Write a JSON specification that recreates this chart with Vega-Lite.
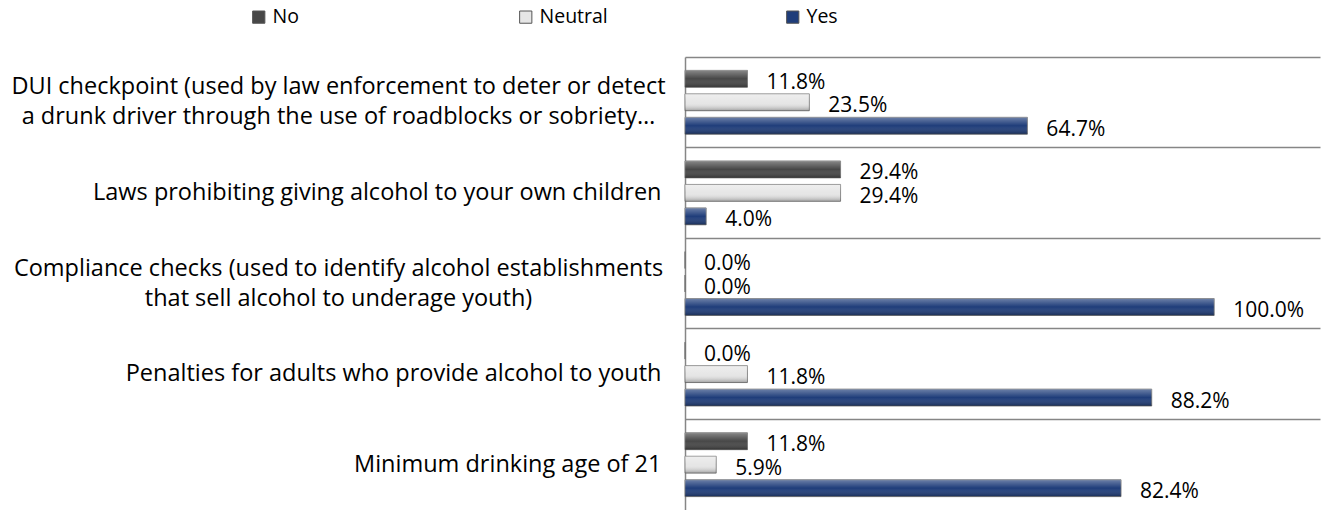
{
  "$schema": "https://vega.github.io/schema/vega-lite/v6.json",
  "autosize": {"type": "none"},
  "padding": {"left": 685, "top": 57, "right": 4, "bottom": 0},
  "width": 635,
  "height": 453,
  "background": "white",
  "config": {
    "font": "Open Sans",
    "view": {"stroke": null}
  },
  "data": {
    "values": [
      {"category": "DUI checkpoint (used by law enforcement to deter or detect|a drunk driver through the use of roadblocks or sobriety…", "series": "No", "value": 0.118},
      {"category": "DUI checkpoint (used by law enforcement to deter or detect|a drunk driver through the use of roadblocks or sobriety…", "series": "Neutral", "value": 0.235},
      {"category": "DUI checkpoint (used by law enforcement to deter or detect|a drunk driver through the use of roadblocks or sobriety…", "series": "Yes", "value": 0.647},
      {"category": "Laws prohibiting giving alcohol to your own children", "series": "No", "value": 0.294},
      {"category": "Laws prohibiting giving alcohol to your own children", "series": "Neutral", "value": 0.294},
      {"category": "Laws prohibiting giving alcohol to your own children", "series": "Yes", "value": 0.04},
      {"category": "Compliance checks (used to identify alcohol establishments|that sell alcohol to underage youth)", "series": "No", "value": 0.0},
      {"category": "Compliance checks (used to identify alcohol establishments|that sell alcohol to underage youth)", "series": "Neutral", "value": 0.0},
      {"category": "Compliance checks (used to identify alcohol establishments|that sell alcohol to underage youth)", "series": "Yes", "value": 1.0},
      {"category": "Penalties for adults who provide alcohol to youth", "series": "No", "value": 0.0},
      {"category": "Penalties for adults who provide alcohol to youth", "series": "Neutral", "value": 0.118},
      {"category": "Penalties for adults who provide alcohol to youth", "series": "Yes", "value": 0.882},
      {"category": "Minimum drinking age of 21", "series": "No", "value": 0.118},
      {"category": "Minimum drinking age of 21", "series": "Neutral", "value": 0.059},
      {"category": "Minimum drinking age of 21", "series": "Yes", "value": 0.824}
    ]
  },
  "encoding": {
    "y": {
      "field": "category",
      "type": "nominal",
      "sort": null,
      "scale": {"paddingInner": 0, "paddingOuter": 0},
      "axis": {
        "title": null,
        "labelExpr": "split(datum.label, '|')",
        "labelFont": "Open Sans",
        "labelFontSize": 23.5,
        "labelColor": "#000000",
        "labelLineHeight": 30,
        "labelLimit": 0,
        "labelAlign": {"condition": {"test": "indexof(datum.value, '|') >= 0", "value": "center"}, "value": "right"},
        "labelPadding": {"condition": {"test": "indexof(datum.value, '|') >= 0", "value": 347}, "value": 24},
        "labelOffset": {"condition": {"test": "indexof(datum.value, '|') >= 0", "value": -15}, "value": 0},
        "ticks": false,
        "domainColor": "#868686",
        "domainWidth": 1.5,
        "grid": true,
        "bandPosition": 0,
        "gridColor": "#868686",
        "gridWidth": 1.5
      }
    },
    "yOffset": {
      "field": "series",
      "type": "nominal",
      "sort": ["No", "Neutral", "Yes"],
      "scale": {"domain": ["No", "Neutral", "Yes"], "paddingInner": 0.28, "paddingOuter": 0.57}
    },
    "x": {
      "field": "value",
      "type": "quantitative",
      "scale": {"domain": [0, 1.2], "nice": false},
      "axis": null
    }
  },
  "layer": [
    {
      "mark": {"type": "bar", "stroke": "#6f6f6f", "strokeWidth": 0.8},
      "encoding": {
        "color": {
          "field": "series",
          "type": "nominal",
          "scale": {"domain": ["No", "Neutral", "Yes"], "range": ["#474747", "#e6e6e6", "#1f3d7a"]},
          "legend": {
            "orient": "none",
            "direction": "horizontal",
            "legendX": -436,
            "legendY": -50,
            "title": null,
            "symbolType": "square",
            "symbolSize": 150,
            "symbolStrokeColor": "#555555",
            "symbolStrokeWidth": 1,
            "labelFont": "Open Sans",
            "labelFontSize": 19.5,
            "labelColor": "#000000",
            "labelOffset": 4,
            "gridAlign": "all",
            "columnPadding": 175
          }
        }
      }
    },
    {
      "mark": {
        "type": "bar",
        "color": {
          "gradient": "linear",
          "x1": 0, "y1": 0, "x2": 0, "y2": 1,
          "stops": [
            {"offset": 0, "color": "rgba(255,255,255,0.35)"},
            {"offset": 0.5, "color": "rgba(255,255,255,0.0)"},
            {"offset": 1, "color": "rgba(0,0,0,0.3)"}
          ]
        }
      }
    },
    {
      "mark": {"type": "text", "align": "left", "baseline": "middle", "dx": 19, "dy": 4, "font": "Open Sans", "fontSize": 21, "color": "#000000"},
      "encoding": {
        "text": {"field": "value", "type": "quantitative", "format": ".1%"}
      }
    }
  ]
}
